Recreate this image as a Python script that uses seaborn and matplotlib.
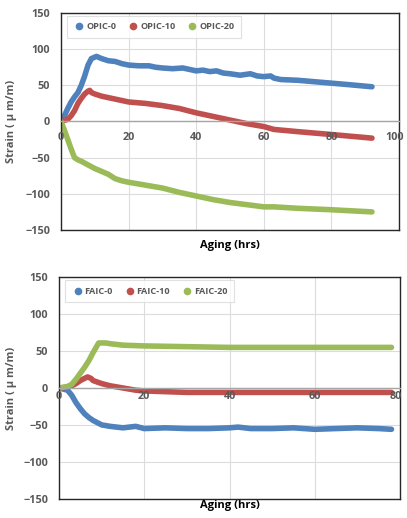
import matplotlib
matplotlib.use("Agg")
import matplotlib.pyplot as plt
from matplotlib.lines import Line2D
from matplotlib.transforms import ScaledTranslation
import pandas as pd
import seaborn as sns

# ---- OPIC series (top panel) ----
opic0_x = [0, 1, 2, 3, 4, 5, 6, 7, 8, 9, 10.5, 12, 14, 16, 18, 20, 23, 26, 28, 30, 33, 36, 38, 40, 42,
           44, 46, 48, 50, 53, 56, 58, 60, 62, 63, 65, 70, 75, 80, 85, 92]
opic0_y = [0, 8, 18, 27, 34, 40, 50, 63, 78, 87, 90, 87, 84, 83, 80, 78, 77, 77, 75, 74, 73, 74, 72, 70, 71,
           69, 70, 67, 66, 64, 66, 63, 62, 63, 60, 58, 57, 55, 53, 51, 48]

opic10_x = [0, 2, 3, 4, 5, 6, 7, 8, 8.5, 9, 10, 12, 15, 20, 25, 30, 35, 40, 45, 50, 55, 60, 63, 70, 80, 92]
opic10_y = [0, 3, 8, 15, 25, 32, 38, 42, 43, 40, 38, 35, 32, 27, 25, 22, 18, 12, 7, 2, -3, -7, -11, -14, -18, -23]

opic20_x = [0, 1, 2, 3, 4, 5, 6, 8, 10, 12, 14, 16, 18, 20, 25, 30, 35, 40, 45, 50, 55, 60, 63, 70, 80, 92]
opic20_y = [0, -12, -25, -38, -50, -53, -55, -60, -65, -69, -73, -79, -82, -84, -88, -92, -98, -103, -108,
            -112, -115, -118, -118, -120, -122, -125]

# ---- FAIC series (bottom panel) ----
faic0_x = [0, 2, 3, 4, 5, 6, 7, 8, 9, 10, 12, 15, 18, 20, 25, 30, 35, 40, 42, 45, 50, 55, 60, 65, 70, 75, 78]
faic0_y = [0, -3, -10, -20, -28, -35, -40, -44, -47, -50, -52, -54, -52, -55, -54, -55, -55, -54, -53, -55,
           -55, -54, -56, -55, -54, -55, -56]

faic10_x = [0, 2, 3, 4, 5, 6, 6.7, 7.5, 8, 10, 12, 15, 18, 20, 25, 30, 40, 50, 60, 70, 78]
faic10_y = [0, 1, 3, 6, 10, 13, 15, 13, 10, 6, 3, 0, -3, -4, -5, -6, -6, -6, -6, -6, -6]

faic20_x = [0, 2, 3, 4, 5, 6, 7, 8, 9.3, 11, 12, 15, 20, 30, 40, 50, 60, 70, 78]
faic20_y = [0, 2, 5, 12, 20, 28, 37, 48, 61, 61, 60, 58, 57, 56, 55, 55, 55, 55, 55]

top_names = ["OPIC-0", "OPIC-10", "OPIC-20"]
bot_names = ["FAIC-0", "FAIC-10", "FAIC-20"]
colors = ["#4F81BD", "#C0504D", "#9BBB59"]

y_ticks = [-150, -100, -50, 0, 50, 100, 150]


def to_frame(names, xs, ys):
    rows = []
    for n, xv, yv in zip(names, xs, ys):
        for a, b in zip(xv, yv):
            rows.append({"Aging": a, "Strain": b, "Series": n})
    return pd.DataFrame(rows)


top_df = to_frame(top_names, [opic0_x, opic10_x, opic20_x], [opic0_y, opic10_y, opic20_y])
bot_df = to_frame(bot_names, [faic0_x, faic10_x, faic20_x], [faic0_y, faic10_y, faic20_y])

sns.set_theme(style="white")
plt.rcParams["font.family"] = ["Open Sans", "DejaVu Sans"]

fig = plt.figure(figsize=(4.07, 5.18), dpi=100)
ax_top = fig.add_axes([0.1499, 0.556, 0.8305, 0.4189])
ax_bot = fig.add_axes([0.145, 0.0373, 0.8378, 0.4274])

tick_color = "#595959"
tick_size = 7.8


def draw_panel(ax, df, names, xmax, xstep, xlab_pad, label_pad, ylab_x):
    pal = dict(zip(names, colors))
    sns.lineplot(data=df, x="Aging", y="Strain", hue="Series", palette=pal, sort=False,
                 linewidth=4.0, ax=ax, legend=False, solid_capstyle="round", solid_joinstyle="round")
    ax.set_xlim(0, xmax)
    ax.set_ylim(-150, 150)
    ax.set_yticks(y_ticks)
    ax.set_xticks(list(range(0, xmax + 1, xstep)))
    ax.grid(True, color="#DCDCDC", linewidth=0.8)
    ax.set_axisbelow(True)
    for sp in ax.spines.values():
        sp.set_color("#262626")
        sp.set_linewidth(1.0)
    ax.tick_params(axis="x", bottom=False, labelbottom=False)
    ax.tick_params(axis="y", left=False, length=0, labelsize=tick_size, labelcolor=tick_color, pad=8)
    for t in ax.get_yticklabels():
        t.set_fontweight("bold")

    # x-axis crossing at zero strain
    sec = ax.secondary_xaxis(0.5)
    sec.set_zorder(5)
    sec.set_xticks(list(range(0, xmax + 1, xstep)))
    sec.xaxis.set_ticks_position("bottom")
    for side in ("top", "bottom"):
        sec.spines[side].set_color("#A6A6A6")
        sec.spines[side].set_linewidth(1.0)
    sec.tick_params(axis="x", length=0, labelsize=tick_size, labelcolor=tick_color, pad=xlab_pad,
                    labelbottom=True, labeltop=False, bottom=False, top=False)
    labels = sec.get_xticklabels()
    for t in labels:
        t.set_fontweight("bold")
    # keep the right-most label inside the figure
    last = labels[-1]
    last.set_transform(last.get_transform() + ScaledTranslation(-3 / 72, 0, fig.dpi_scale_trans))

    ax.set_xlabel("Aging (hrs)", fontsize=8, fontweight="bold", color="black", labelpad=label_pad)
    ax.set_ylabel("Strain ( \u03bc m/m)", fontsize=8, fontweight="bold", color=tick_color)
    ax.yaxis.set_label_coords(ylab_x, 0.5)

    handles = [Line2D([0], [0], marker="o", linestyle="none", markersize=4.5,
                      markerfacecolor=c, markeredgecolor=c) for c in colors]
    leg = ax.legend(handles, names, loc="upper left", bbox_to_anchor=(0.018, 0.986),
                    borderaxespad=0, ncol=3, frameon=True, fancybox=False,
                    handletextpad=0.1, columnspacing=1.2, handlelength=1.3,
                    borderpad=0.7, prop={"size": 6.6, "weight": "bold", "family": "Open Sans"})
    leg.get_frame().set_edgecolor("#D9D9D9")
    leg.get_frame().set_linewidth(0.8)
    for t in leg.get_texts():
        t.set_color(tick_color)


draw_panel(ax_top, top_df, top_names, 100, 20, 7.5, 7, -0.13)
draw_panel(ax_bot, bot_df, bot_names, 80, 20, 2.0, 1, -0.123)

fig.savefig("out.png", dpi=100)
